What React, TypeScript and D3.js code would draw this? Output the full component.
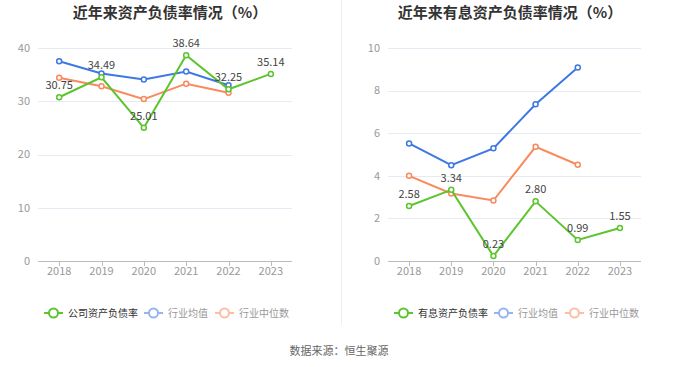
import { useEffect, useRef } from 'react';
import * as d3 from 'd3';

const years = ['2018', '2019', '2020', '2021', '2022', '2023'];

// left chart: 资产负债率
const companyDebt = [30.75, 34.49, 25.01, 38.64, 32.25, 35.14];
const industryMeanDebt = [37.5, 35.2, 34.1, 35.6, 33.0, null];
const industryMedianDebt = [34.4, 32.8, 30.4, 33.3, 31.6, null];
const leftTicks = [0, 10, 20, 30, 40];

// right chart: 有息资产负债率
const companyIbDebt = [2.58, 3.34, 0.23, 2.8, 0.99, 1.55];
const industryMeanIb = [5.52, 4.5, 5.29, 7.36, 9.08, null];
const industryMedianIb = [4.0, 3.17, 2.84, 5.36, 4.52, null];
const rightTicks = [0, 2, 4, 6, 8, 10];

const GREEN = '#5cc42d';
const BLUE = '#3d78e3';
const ORANGE = '#f98a5e';
const FONT = '"Noto Sans CJK SC", "Noto Sans", sans-serif';

type Panel = {
  left: number;
  right: number;
  title: string;
  titleX: number;
  ticks: number[];
  max: number;
  series: { name: string; values: (number | null)[]; color: string; labels: boolean }[];
  legendX: number[];
};

const App = () => {
  const svgRef = useRef<SVGSVGElement | null>(null);

  useEffect(() => {
    const svg = d3.select(svgRef.current);
    svg.selectAll('*').remove();

    const top = 48;
    const bottom = 261;

    const panels: Panel[] = [
      {
        left: 38, right: 292,
        title: '近年来资产负债率情况（%）', titleX: 170,
        ticks: leftTicks, max: 40,
        series: [
          { name: '公司资产负债率', values: companyDebt, color: GREEN, labels: true },
          { name: '行业均值', values: industryMeanDebt, color: BLUE, labels: false },
          { name: '行业中位数', values: industryMedianDebt, color: ORANGE, labels: false },
        ],
        legendX: [44, 144, 215],
      },
      {
        left: 388, right: 641,
        title: '近年来有息资产负债率情况（%）', titleX: 510,
        ticks: rightTicks, max: 10,
        series: [
          { name: '有息资产负债率', values: companyIbDebt, color: GREEN, labels: true },
          { name: '行业均值', values: industryMeanIb, color: BLUE, labels: false },
          { name: '行业中位数', values: industryMedianIb, color: ORANGE, labels: false },
        ],
        legendX: [394, 494, 565],
      },
    ];

    // divider
    svg.append('line')
      .attr('x1', 341.5).attr('x2', 341.5)
      .attr('y1', 0).attr('y2', 325)
      .attr('stroke', '#eeeeee');

    panels.forEach(p => {
      const x = d3.scaleBand().domain(years).range([p.left, p.right]);
      const y = d3.scaleLinear().domain([0, p.max]).range([bottom, top]);
      const g = svg.append('g');

      g.append('text')
        .attr('x', p.titleX).attr('y', 18)
        .attr('text-anchor', 'middle')
        .attr('font-size', 15).attr('font-weight', 'bold')
        .attr('fill', '#333')
        .text(p.title);

      // grid
      g.selectAll('.grid')
        .data(p.ticks.filter(t => t > 0))
        .enter().append('line')
        .attr('x1', p.left).attr('x2', p.right)
        .attr('y1', d => Math.round(y(d)) + 0.5).attr('y2', d => Math.round(y(d)) + 0.5)
        .attr('stroke', '#e6eaf2');

      g.selectAll('.ylab')
        .data(p.ticks)
        .enter().append('text')
        .attr('x', p.left - 8).attr('y', d => y(d))
        .attr('dy', '0.35em')
        .attr('text-anchor', 'end')
        .attr('font-size', 11).attr('fill', '#999')
        .text(d => d);

      // x axis
      g.append('line')
        .attr('x1', p.left).attr('x2', p.right)
        .attr('y1', bottom + 0.5).attr('y2', bottom + 0.5)
        .attr('stroke', '#bbbbbb');
      g.selectAll('.xtick')
        .data(years)
        .enter().append('line')
        .attr('x1', d => Math.round(x(d)! + x.bandwidth() / 2) + 0.5)
        .attr('x2', d => Math.round(x(d)! + x.bandwidth() / 2) + 0.5)
        .attr('y1', bottom).attr('y2', bottom + 5)
        .attr('stroke', '#bbbbbb');
      g.selectAll('.xlab')
        .data(years)
        .enter().append('text')
        .attr('x', d => x(d)! + x.bandwidth() / 2).attr('y', bottom + 14)
        .attr('text-anchor', 'middle')
        .attr('font-size', 11).attr('fill', '#999')
        .text(d => d);

      const cx = (i: number) => x(years[i])! + x.bandwidth() / 2;

      // draw series in reverse so company line is on top
      [...p.series].reverse().forEach(s => {
        const pts = s.values
          .map((v, i) => ({ v, i }))
          .filter(d => d.v !== null) as { v: number; i: number }[];
        const line = d3.line<{ v: number; i: number }>()
          .x(d => cx(d.i)).y(d => y(d.v));
        g.append('path')
          .attr('d', line(pts))
          .attr('fill', 'none')
          .attr('stroke', s.color)
          .attr('stroke-width', 2);
        g.selectAll(null)
          .data(pts)
          .enter().append('circle')
          .attr('cx', d => cx(d.i)).attr('cy', d => y(d.v))
          .attr('r', 2.5)
          .attr('fill', '#fff')
          .attr('stroke', s.color)
          .attr('stroke-width', 1.5);
        if (s.labels) {
          g.selectAll(null)
            .data(pts)
            .enter().append('text')
            .attr('x', d => cx(d.i)).attr('y', d => y(d.v) - 8)
            .attr('text-anchor', 'middle')
            .attr('font-size', 11).attr('fill', '#444')
            .text(d => d.v.toFixed(2));
        }
      });

      // legend
      p.series.forEach((s, i) => {
        const lx = p.legendX[i];
        const ly = 313;
        const first = i === 0;
        const c = first ? s.color : d3.interpolateRgb(s.color, '#fff')(0.45);
        g.append('line')
          .attr('x1', lx).attr('x2', lx + 19)
          .attr('y1', ly).attr('y2', ly)
          .attr('stroke', c).attr('stroke-width', 2);
        g.append('circle')
          .attr('cx', lx + 9.5).attr('cy', ly).attr('r', 4.5)
          .attr('fill', '#fff').attr('stroke', c).attr('stroke-width', 2);
        g.append('text')
          .attr('x', lx + 24).attr('y', ly).attr('dy', '0.35em')
          .attr('font-size', 10)
          .attr('fill', first ? '#333' : '#999')
          .text(s.name);
      });
    });

    svg.append('text')
      .attr('x', 339).attr('y', 351).attr('dy', '0.35em')
      .attr('text-anchor', 'middle')
      .attr('font-size', 11).attr('fill', '#666')
      .text('数据来源：恒生聚源');
  }, []);

  return (
    <svg
      ref={svgRef}
      width={680}
      height={367}
      style={{ position: 'fixed', left: 0, top: 0, background: '#fff', fontFamily: FONT }}
    />
  );
};

export default App;
